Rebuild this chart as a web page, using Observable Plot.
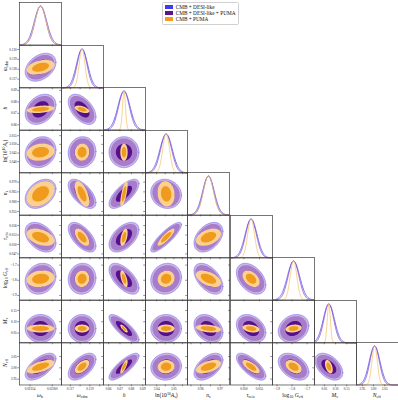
<!DOCTYPE html>
<html><head><meta charset="utf-8">
<script src="https://cdn.jsdelivr.net/npm/d3@7"></script>
<script src="https://cdn.jsdelivr.net/npm/@observablehq/plot@0.6"></script>
<style>
body{margin:0;background:#fff;}
#fig{position:relative;width:398px;height:400px;overflow:hidden;font-family:"Liberation Serif","DejaVu Serif",serif;color:#111;}
.xt{position:absolute;transform:translate(-50%,-50%);font-size:5.6px;white-space:nowrap;line-height:1;}
.yt{position:absolute;transform:translate(-50%,-50%) rotate(-90deg);font-size:5.6px;white-space:nowrap;line-height:1;}
sub{font-size:70%;vertical-align:-0.3em;line-height:0;}
sup{font-size:70%;vertical-align:0.45em;line-height:0;}
#legend{position:absolute;border:0.6px solid #d0d0d0;border-radius:1.5px;background:#fff;padding:1.5px 2.5px;font-size:5.3px;line-height:6px;white-space:nowrap;}
#legend .sw{display:inline-block;width:8px;height:3.6px;margin-right:2.5px;vertical-align:0px;}
</style></head><body><div id="fig"></div>
<script>
// ---- data ----
const axisTitles = ["<i>ω</i><sub>b</sub>", "<i>ω</i><sub>cdm</sub>", "<i>h</i>", "ln(10<sup>10</sup><i>A</i><sub>s</sub>)", "<i>n</i><sub>s</sub>", "<i>τ</i><sub>reio</sub>", "log<sub>10</sub> <i>G</i><sub>eff</sub>", "<i>M</i><sub>ν</sub>", "<i>N</i><sub>eff</sub>"];
const domainLo = [0.02207, 0.1161, 0.6555, 3.0335, 0.9532, 0.0457, -1.93, 0.006, 2.924];
const domainHi = [0.02275, 0.1204, 0.6925, 3.0580, 0.9749, 0.0592, -1.65, 0.194, 3.112];
const meanFid = [0.02241, 0.1182, 0.6735, 3.0455, 0.9640, 0.0523, -1.79, 0.070, 3.005];
const sigmaDesi = [0.000100, 0.00057, 0.0053, 0.0036, 0.0030, 0.0019, 0.041, 0.025, 0.024];
const sigmaDesiPuma = [0.000089, 0.00050, 0.0047, 0.0032, 0.0027, 0.0017, 0.036, 0.022, 0.021];
const sigmaPuma = [0.000090, 0.00030, 0.0013, 0.0020, 0.0026, 0.0011, 0.022, 0.007, 0.012];
const corr = [
  [],
  [0.35],
  [0.30, -0.50],
  [0.15, 0.05, 0.00],
  [0.35, -0.60, 0.70, -0.10],
  [-0.40, -0.60, 0.50, 0.85, 0.40],
  [0.15, 0.05, -0.60, 0.10, -0.50, -0.40],
  [0.00, 0.00, -0.80, 0.00, -0.30, -0.30, 0.20],
  [0.60, 0.55, 0.80, 0.05, 0.50, -0.70, -0.40, -0.45]
];
const xTickValues = [[0.02224, 0.02260], [0.117, 0.118, 0.119, 0.120], [0.66, 0.67, 0.68, 0.69], [3.040, 3.045, 3.050, 3.055], [0.955, 0.960, 0.965, 0.970], [0.050, 0.055], [-1.9, -1.8, -1.7], [0.05, 0.10, 0.15], [2.95, 3.00, 3.05]];
const xTickLabels = [["0.02224", "0.02260"], ["0.117", "", "0.119", ""], ["0.66", "0.67", "0.68", "0.69"], ["3.04", "", "3.05", ""], ["", "0.96", "", "0.97"], ["0.050", "0.055"], ["−1.9", "−1.8", "−1.7"], ["0.05", "0.10", "0.15"], ["2.95", "3.00", "3.05"]];
const yTickValues = [[], [0.117, 0.118, 0.119, 0.120], [0.66, 0.67, 0.68, 0.69], [3.040, 3.045, 3.050, 3.055], [0.955, 0.960, 0.965, 0.970], [0.047, 0.050, 0.053, 0.056], [-1.9, -1.8, -1.7], [0.05, 0.10, 0.15], [2.95, 3.00, 3.05]];
const yTickLabels = [[], ["0.117", "0.118", "0.119", "0.120"], ["0.66", "0.67", "0.68", "0.69"], ["3.040", "3.045", "3.050", "3.055"], ["0.955", "0.960", "0.965", "0.970"], ["0.047", "0.050", "0.053", "0.056"], ["−1.9", "−1.8", "−1.7"], ["0.05", "0.10", "0.15"], ["2.95", "3.00", "3.05"]];
const seriesNames = ["CMB + DESI-like", "CMB + DESI-like + PUMA", "CMB + PUMA"];
const seriesColors = ["#3b3bf0", "#5c1391", "#f29b1f"];

// ---- layout ----
const X0 = 19, Y0 = 2, W = 42.1, H = 42.5, N = 9;
const K1 = 1.516, K2 = 2.486;
const fig = document.getElementById("fig");

function ellipse(mx, my, sx, sy, r, k) {
  const pts = [], s = Math.sqrt(1 - r * r);
  for (let t = 0; t <= 90; t++) {
    const th = 2 * Math.PI * t / 90;
    pts.push({x: mx + k * sx * Math.cos(th), y: my + k * sy * (r * Math.cos(th) + s * Math.sin(th))});
  }
  return pts;
}
function gauss(j, m, s) {
  const pts = [];
  for (let t = 0; t <= 120; t++) {
    const x = domainLo[j] + (domainHi[j] - domainLo[j]) * t / 120;
    pts.push({x, y: Math.exp(-0.5 * ((x - m) / s) ** 2)});
  }
  return pts;
}
const lab = (vals, labs) => { const m = new Map(vals.map((v, k) => [v, labs[k]])); return d => m.get(d) ?? ""; };

for (let i = 0; i < N; i++) {
  for (let j = 0; j <= i; j++) {
    const marks = [];
    let yopt;
    if (i === j) {
      yopt = {domain: [0, 1.09], axis: null};
      marks.push(Plot.line(gauss(j, meanFid[j], sigmaDesi[j]), {x: "x", y: "y", stroke: "#4a4af2", strokeWidth: 0.75}));
      marks.push(Plot.line(gauss(j, meanFid[j], sigmaDesiPuma[j]), {x: "x", y: "y", stroke: "#8446c4", strokeWidth: 0.75}));
      marks.push(Plot.line(gauss(j, meanFid[j], sigmaPuma[j]), {x: "x", y: "y", stroke: "#f8c266", strokeWidth: 0.75}));
    } else {
      yopt = {domain: [domainLo[i], domainHi[i]]};
      const r = corr[i][j];
      const E = (s, k) => ellipse(meanFid[j], meanFid[i], s[j], s[i], r, k);
      const layer = (s, k, fill, stroke) => Plot.line(E(s, k), {x: "x", y: "y", fill, stroke: stroke || "none", strokeWidth: 0.5, curve: "linear-closed", clip: true});
      marks.push(layer(sigmaDesi, K2, "#cdb5e6", "#6464f0"));
      marks.push(layer(sigmaDesi, K1, "#9c8ae0", "#6464f0"));
      marks.push(layer(sigmaDesiPuma, K2, "#a77ccb"));
      marks.push(layer(sigmaDesiPuma, K1, "#55118a"));
      marks.push(layer(sigmaPuma, K2, "#fcd08f"));
      marks.push(layer(sigmaPuma, K1, "#f09a1e"));
      marks.push(Plot.axisY(yTickValues[i], {tickSize: 1.8, tickPadding: 1, strokeWidth: 0.5, fontSize: 3.3, label: null,
        tickFormat: j === 0 ? lab(yTickValues[i], yTickLabels[i]) : () => ""}));
    }
    marks.push(Plot.axisX(xTickValues[j], {tickSize: 1.8, tickPadding: 1.2, strokeWidth: 0.5, fontSize: 3.3, label: null,
      tickFormat: i === N - 1 ? lab(xTickValues[j], xTickLabels[j]) : () => ""}));
    marks.push(Plot.frame({stroke: "#3c3c3c", strokeWidth: 0.7}));
    const svg = Plot.plot({
      width: W, height: H, margin: 0,
      style: {position: "absolute", left: (X0 + j * W) + "px", top: (Y0 + i * H) + "px", overflow: "visible", background: "transparent", fontFamily: "Liberation Serif, DejaVu Serif, serif", color: "#222"},
      x: {domain: [domainLo[j], domainHi[j]]},
      y: yopt,
      marks
    });
    fig.appendChild(svg);
  }
}
// axis titles
for (let j = 0; j < N; j++) {
  const d = document.createElement("div");
  d.className = "xt"; d.innerHTML = axisTitles[j];
  d.style.left = (X0 + (j + 0.5) * W) + "px"; d.style.top = "395.5px";
  fig.appendChild(d);
}
for (let i = 1; i < N; i++) {
  const d = document.createElement("div");
  d.className = "yt"; d.innerHTML = axisTitles[i];
  d.style.left = "5.5px"; d.style.top = (Y0 + (i + 0.5) * H) + "px";
  fig.appendChild(d);
}
// legend
const lg = document.createElement("div");
lg.id = "legend";
lg.innerHTML = seriesNames.map((s, k) => `<div><span class="sw" style="background:${seriesColors[k]}"></span>${s}</div>`).join("");
lg.style.right = (398 - 239) + "px"; lg.style.top = "1.5px";
fig.appendChild(lg);
</script></body></html>
